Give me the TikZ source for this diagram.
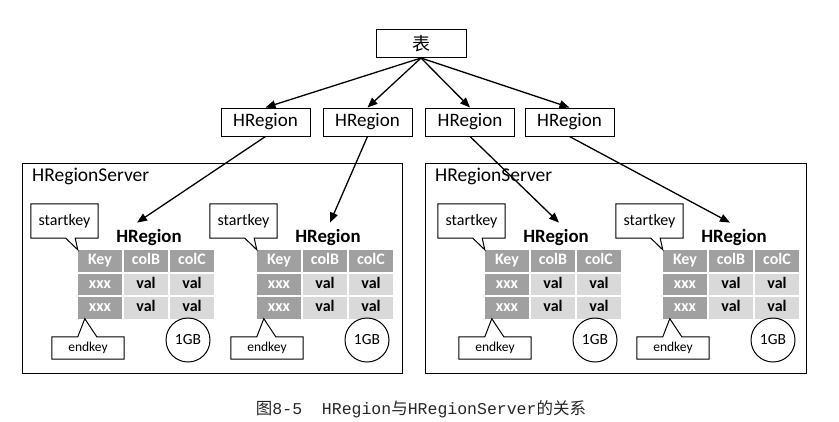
\documentclass[tikz,border=0pt]{standalone}
\usepackage{fontspec}
\setmainfont{Carlito}
\newfontfamily\cjk{Noto Sans CJK SC}
\newfontfamily\capmono{Liberation Mono}
\usetikzlibrary{arrows.meta}
\definecolor{cdark}{HTML}{A0A0A0}
\definecolor{clight}{HTML}{D9D9D9}
\begin{document}
\begin{tikzpicture}[x=1pt,y=-1pt,
  topbox/.style={draw,line width=1pt,minimum width=89pt,minimum height=28pt,inner sep=0pt,font=\fontsize{19}{19}\selectfont},
  arr/.style={line width=1.3pt,-{Triangle[length=10pt,width=8pt]}},
  server/.style={draw,line width=1pt},
  cellbase/.style={minimum width=44pt,minimum height=21.5pt,inner sep=0pt,text height=11pt,text depth=3pt,font=\fontsize{16}{16}\selectfont\bfseries},
  dcell/.style={cellbase,fill=cdark,text=white},
  lcell/.style={cellbase,fill=clight,text=black},
  callout/.style={line width=1pt},
  gbcircle/.style={draw,circle,line width=1pt,minimum size=44pt,inner sep=0pt,font=\fontsize{15.5}{15.5}\selectfont},
  reglabel/.style={inner sep=0pt,font=\fontsize{18.8}{18.8}\selectfont\bfseries}]
\useasboundingbox (0,0) rectangle (839,421);
% table and top boxes
\node[draw,line width=1pt,minimum width=90pt,minimum height=28pt,inner sep=0pt,font=\cjk\fontsize{18}{18}\selectfont] (t) at (421,43.5) {表};
\node[topbox] (h1) at (265.5,122) {HRegion};
\node[topbox] (h2) at (367.5,122) {HRegion};
\node[topbox] (h3) at (470,122) {HRegion};
\node[topbox] (h4) at (569.5,122) {HRegion};
\foreach \i in {1,...,4} \draw[arr] (t.south) -- (h\i.north);
% servers
\draw[server] (22,163) rectangle (402,373);
\draw[server] (425,163) rectangle (806,373);
\node[anchor=west,inner sep=0pt,font=\fontsize{19.5}{19.5}\selectfont] (s1) at (32,176) {HRegionServer};
\node[anchor=west,inner sep=0pt,font=\fontsize{19.5}{19.5}\selectfont] (s2) at (435,176) {HRegionServer};
% regions
\foreach \i/\dx in {1/0,2/179,3/407,4/585}{
\begin{scope}[xshift=\dx pt]
  \node[dcell] (c\i-0-0) at (100,260.75) {Key};
  \node[dcell] (c\i-0-1) at (146,260.75) {colB};
  \node[dcell] (c\i-0-2) at (192,260.75) {colC};
  \node[dcell] (c\i-1-0) at (100,284.25) {xxx};
  \node[lcell] (c\i-1-1) at (146,284.25) {val};
  \node[lcell] (c\i-1-2) at (192,284.25) {val};
  \node[dcell] (c\i-2-0) at (100,307.75) {xxx};
  \node[lcell] (c\i-2-1) at (146,307.75) {val};
  \node[lcell] (c\i-2-2) at (192,307.75) {val};
  \node[reglabel] (lab\i) at (149,237) {HRegion};
  \node[minimum width=67pt,minimum height=34pt,inner sep=0pt,font=\fontsize{16}{16}\selectfont] (sk\i) at (64.5,221) {startkey};
  \draw[callout] (sk\i.north west) -- (sk\i.north east) -- (sk\i.south east) -- ([xshift=-23pt]sk\i.south east) -- (c\i-0-0.north west) -- ([xshift=35pt]sk\i.south west) -- (sk\i.south west) -- cycle;
  \node[minimum width=72pt,minimum height=22pt,inner sep=0pt,font=\fontsize{13.5}{13.5}\selectfont] (ek\i) at (88,348) {endkey};
  \draw[callout] (ek\i.north west) -- ([xshift=26pt]ek\i.north west) -- ([xshift=7pt]c\i-2-0.south west) -- ([xshift=45pt]ek\i.north west) -- (ek\i.north east) -- (ek\i.south east) -- (ek\i.south west) -- cycle;
  \node[gbcircle] (gb\i) at (188,340) {1GB};
\end{scope}
}
\draw[arr] (h1.south) -- ([xshift=-12pt,yshift=6pt]lab1.north);
\draw[arr] (h2.south) -- ([xshift=2pt,yshift=6pt]lab2.north);
\draw[arr] (h3.south) -- ([xshift=3pt,yshift=6pt]lab3.north);
\draw[arr] (h4.south) -- ([xshift=-4pt,yshift=6pt]lab4.north);
% caption
\node[text=black!85,inner sep=0pt,font=\fontsize{16.5}{16.5}\selectfont] (cap) at (421,409) {{\cjk 图}{\capmono 8-5\ \ HRegion}{\cjk 与}{\capmono HRegionServer}{\cjk 的关系}};
\end{tikzpicture}
\end{document}
